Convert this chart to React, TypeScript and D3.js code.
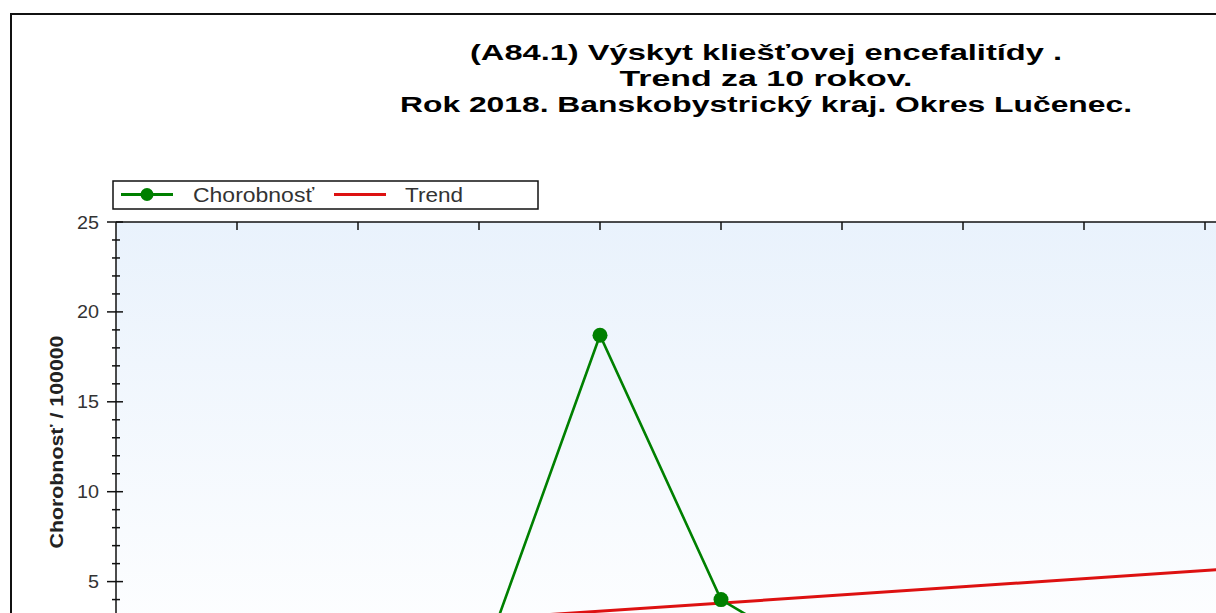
import React from "react";
import * as d3 from "d3";

const years = [2009, 2010, 2011, 2012, 2013, 2014, 2015, 2016, 2017, 2018];
const chorobnost = [1.34, 0, 0, 18.7, 4.0, 0, 0, 0, 0, 16.3];
const yTicks = [5, 10, 15, 20, 25];
const titleLines = [
  "(A84.1) Výskyt kliešťovej encefalitídy .",
  "Trend za 10 rokov.",
  "Rok 2018. Banskobystrický kraj. Okres Lučenec.",
];
const legendLabels = ["Chorobnosť", "Trend"];
const yAxisTitle = "Chorobnosť / 100000";

export default function App() {
  const W = 1216;
  const H = 613;
  const x = d3.scaleLinear().domain([2008, 2019]).range([116, 116 + 11 * 121]);
  const y = d3.scaleLinear().domain([0, 25]).range([671.5, 222]);

  // linear regression trend
  const n = years.length;
  const mx = d3.mean(years) as number;
  const my = d3.mean(chorobnost) as number;
  let sxy = 0, sxx = 0;
  years.forEach((yr, i) => {
    sxy += (yr - mx) * (chorobnost[i] - my);
    sxx += (yr - mx) * (yr - mx);
  });
  const b = sxy / sxx;
  const a = my - b * mx;
  const trendPts: [number, number][] = [years[0], years[n - 1]].map((yr) => [yr, a + b * yr]);

  const line = d3
    .line<[number, number]>()
    .x((d) => x(d[0]))
    .y((d) => y(d[1]));
  const dataPts: [number, number][] = years.map((yr, i) => [yr, chorobnost[i]]);

  const minor = d3.range(1, 26).filter((v) => v % 5 !== 0);
  const topTicks = d3.range(2009, 2020);

  const titleWidths = [592, 293, 732];
  const titleBase = [60, 86, 112];

  return (
    <svg
      width={W}
      height={H}
      style={{ position: "absolute", left: 0, top: 0, display: "block", background: "#fff" }}
      fontFamily="'Liberation Sans', Arial, sans-serif"
    >
      <defs>
        <linearGradient id="bg" x1="0" y1="0" x2="0" y2="1">
          <stop offset="0" stopColor="#e9f2fc" />
          <stop offset="1" stopColor="#ffffff" />
        </linearGradient>
        <clipPath id="plotClip">
          <rect x={116} y={222} width={2000} height={460} />
        </clipPath>
      </defs>
      <rect x={0} y={0} width={W} height={H} fill="#fff" />
      {/* outer frame */}
      <rect x={11} y={14} width={2000} height={2000} fill="none" stroke="#111" strokeWidth={2} />

      {/* title */}
      {titleLines.map((t, i) => (
        <text
          key={i}
          x={766}
          y={titleBase[i]}
          textAnchor="middle"
          fontWeight="bold"
          fontSize={22.5}
          textLength={titleWidths[i]}
          lengthAdjust="spacingAndGlyphs"
          fill="#000"
        >
          {t}
        </text>
      ))}

      {/* plot background */}
      <rect x={116} y={222} width={x(2019) - 116} height={y(0) - 222} fill="url(#bg)" />

      {/* top border & ticks */}
      <line x1={116} x2={x(2019)} y1={222} y2={222} stroke="#111" strokeWidth={1.5} />
      {topTicks.map((t) => (
        <line key={t} x1={x(t)} x2={x(t)} y1={222} y2={230} stroke="#111" strokeWidth={1.5} />
      ))}

      {/* y axis */}
      <line x1={116} x2={116} y1={222} y2={y(0)} stroke="#111" strokeWidth={1.5} />
      {minor.map((v) => (
        <line key={v} x1={112} x2={120} y1={y(v)} y2={y(v)} stroke="#111" strokeWidth={1.5} />
      ))}
      {yTicks.map((v) => (
        <g key={v}>
          <line x1={107} x2={123} y1={y(v)} y2={y(v)} stroke="#111" strokeWidth={1.5} />
          <text
            x={99}
            y={y(v) + 6.5}
            textAnchor="end"
            fontSize={18}
            fill="#333"
            textLength={v < 10 ? 11 : 22}
            lengthAdjust="spacingAndGlyphs"
          >
            {v}
          </text>
        </g>
      ))}
      <text
        transform={`translate(63,442) rotate(-90)`}
        textAnchor="middle"
        fontWeight="bold"
        fontSize={18}
        fill="#222"
        textLength={213}
        lengthAdjust="spacingAndGlyphs"
      >
        {yAxisTitle}
      </text>

      {/* series */}
      <g clipPath="url(#plotClip)">
        <path d={line(trendPts) || ""} fill="none" stroke="#dd1111" strokeWidth={3} />
        <path d={line(dataPts) || ""} fill="none" stroke="#008000" strokeWidth={2.6} />
        {dataPts.map((d, i) => (
          <circle key={i} cx={x(d[0])} cy={y(d[1])} r={7.5} fill="#008000" />
        ))}
      </g>

      {/* legend */}
      <rect x={113} y={181} width={425} height={28} fill="#fff" stroke="#111" strokeWidth={1.5} />
      <line x1={121} x2={173} y1={194.5} y2={194.5} stroke="#008000" strokeWidth={3} />
      <circle cx={147} cy={194.5} r={6.5} fill="#008000" />
      <text x={193} y={201.5} fontSize={20} fill="#333" textLength={121} lengthAdjust="spacingAndGlyphs">
        {legendLabels[0]}
      </text>
      <line x1={334} x2={386} y1={194.5} y2={194.5} stroke="#dd1111" strokeWidth={3} />
      <text x={405} y={201.5} fontSize={20} fill="#333" textLength={58} lengthAdjust="spacingAndGlyphs">
        {legendLabels[1]}
      </text>
    </svg>
  );
}
